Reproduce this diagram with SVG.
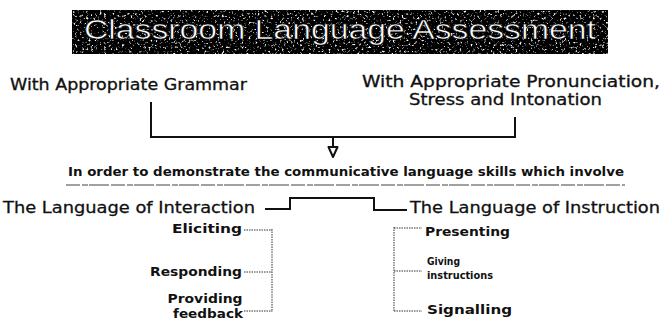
<svg xmlns="http://www.w3.org/2000/svg" width="664" height="321" viewBox="0 0 664 321">
<style>
  .hw { font-family: "DejaVu Sans", "Liberation Sans", sans-serif; fill: #111; }
  .head { font-size: 15px; stroke: #111; stroke-width: 0.3; }
  .lang { font-size: 16px; stroke: #111; stroke-width: 0.3; }
  .item { font-size: 13px; font-weight: bold; }
  .small { font-size: 11px; font-weight: bold; }
  .title { font-family: "Liberation Sans", "DejaVu Sans", sans-serif; font-size: 27px; fill: #fff; stroke: #000; stroke-width: 0.6; }
  .conn { fill: none; stroke: #111; stroke-width: 2; }
  .dot { fill: none; stroke: #333; stroke-width: 1; stroke-dasharray: 1.5 1; }
</style>
<defs>
  <filter id="noise" x="0" y="0" width="100%" height="100%">
    <feTurbulence type="fractalNoise" baseFrequency="0.45" numOctaves="2" seed="7" result="n"/>
    <feColorMatrix in="n" type="matrix" values="0 0 0 0 1  0 0 0 0 1  0 0 0 0 1  5 0 0 0 -2.9"/>
    <feComposite operator="in" in2="SourceGraphic"/>
  </filter>
</defs>
<rect width="664" height="321" fill="#fff"/>
<g id="title">
  <rect x="72" y="10" width="536" height="44" fill="#000"/>
  <rect x="72" y="10" width="536" height="44" fill="#fff" filter="url(#noise)"/>
  <text class="title" x="340" y="39" text-anchor="middle" textLength="512" lengthAdjust="spacingAndGlyphs">Classroom Language Assessment</text>
</g>
<g id="grammar">
  <text class="hw head" x="10" y="90" textLength="237" lengthAdjust="spacingAndGlyphs">With Appropriate Grammar</text>
</g>
<g id="pronunciation">
  <text class="hw head" x="362" y="87" textLength="298" lengthAdjust="spacingAndGlyphs">With Appropriate Pronunciation,</text>
  <text class="hw head" x="409" y="105" textLength="193" lengthAdjust="spacingAndGlyphs">Stress and Intonation</text>
</g>
<g id="skills">
  <text class="hw item" x="68" y="176" textLength="556" lengthAdjust="spacingAndGlyphs">In order to demonstrate the communicative language skills which involve</text>
  <line x1="66" y1="185" x2="625" y2="185" stroke="#444" stroke-width="1.2" stroke-dasharray="14 2 6 1 20 2"/>
</g>
<g id="interaction">
  <text class="hw lang" x="3" y="213" textLength="252" lengthAdjust="spacingAndGlyphs">The Language of Interaction</text>
</g>
<g id="instruction">
  <text class="hw lang" x="410" y="213" textLength="250" lengthAdjust="spacingAndGlyphs">The Language of Instruction</text>
</g>
<g id="eliciting"><text class="hw item" x="242" y="233" text-anchor="end" textLength="70" lengthAdjust="spacingAndGlyphs">Eliciting</text></g>
<g id="responding"><text class="hw item" x="242" y="276" text-anchor="end" textLength="92" lengthAdjust="spacingAndGlyphs">Responding</text></g>
<g id="feedback">
  <text class="hw item" x="205" y="303" text-anchor="middle" textLength="75" lengthAdjust="spacingAndGlyphs">Providing</text>
  <text class="hw item" x="208" y="318" text-anchor="middle" textLength="70" lengthAdjust="spacingAndGlyphs">feedback</text>
</g>
<g id="presenting"><text class="hw item" x="425" y="236" textLength="85" lengthAdjust="spacingAndGlyphs">Presenting</text></g>
<g id="giving">
  <text class="hw small" x="427" y="265" textLength="33" lengthAdjust="spacingAndGlyphs">Giving</text>
  <text class="hw small" x="427" y="279" textLength="66" lengthAdjust="spacingAndGlyphs">instructions</text>
</g>
<g id="signalling"><text class="hw item" x="427" y="314" textLength="85" lengthAdjust="spacingAndGlyphs">Signalling</text></g>
<g id="connectors">
  <path class="conn" d="M151,102 V137 H515 V117"/>
  <path class="conn" d="M333,137 V148"/>
  <polygon points="328.5,147 337.5,147 333,157" fill="#fff" stroke="#111" stroke-width="2" stroke-linejoin="round"/>
  <path class="conn" d="M265,209 H290 V198 H374 V210 H407"/>
  <path class="dot" d="M244,230 H272 M244,272 H272 M244,311 H272 M272,229 V312"/>
  <path class="dot" d="M394,227 V312 M394,228 H422 M394,271 H422 M394,311 H422"/>
</g>
</svg>
